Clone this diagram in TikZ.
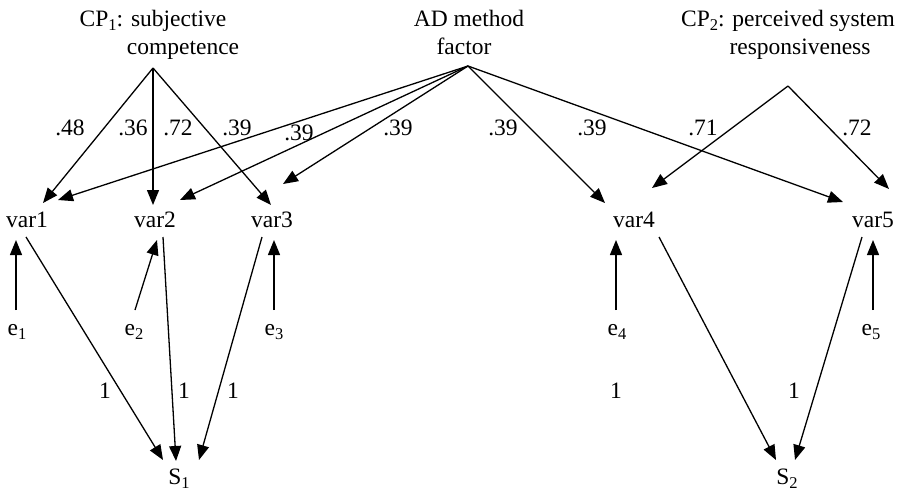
\documentclass[tikz,border=0pt]{standalone}
\usepackage{fontspec}
\setmainfont{Liberation Serif}
\usetikzlibrary{arrows.meta}
\newcommand\lsub[1]{\raisebox{-0.21em}{\fontsize{16.5}{16.5}\selectfont #1}}
\begin{document}
\begin{tikzpicture}[x=1pt,y=-1pt,
  lbl/.style={font=\fontsize{23.5}{28}\selectfont, inner sep=0pt, anchor=base},
  arr/.style={line width=1.3pt, -{Triangle[length=15pt,width=12pt]}}]
\useasboundingbox (0,0) rectangle (902,491);
% top labels
\node[lbl] (cp1a) at (153,26) {CP\lsub{1}: subjective};
\node[lbl] (cp1b) at (183,54) {competence};
\node[lbl] (ada) at (469,26) {AD method};
\node[lbl] (adb) at (464,54) {factor};
\node[lbl] (cp2a) at (788,26) {CP\lsub{2}: perceived system};
\node[lbl] (cp2b) at (800,54) {responsiveness};
% observed variables
\node[lbl] (var1) at (27,227) {var1};
\node[lbl] (var2) at (155,227) {var2};
\node[lbl] (var3) at (272,227) {var3};
\node[lbl] (var4) at (634,227) {var4};
\node[lbl] (var5) at (873,227) {var5};
% errors
\node[lbl] (e1) at (17,335) {e\lsub{1}};
\node[lbl] (e2) at (134,335) {e\lsub{2}};
\node[lbl] (e3) at (274,335) {e\lsub{3}};
\node[lbl] (e4) at (617,335) {e\lsub{4}};
\node[lbl] (e5) at (871,335) {e\lsub{5}};
% S nodes
\node[lbl] (s1) at (179,484) {S\lsub{1}};
\node[lbl] (s2) at (787,484) {S\lsub{2}};
% apex coordinates
\coordinate (cp1o) at (153,68);
\coordinate (ado) at (468,66);
\coordinate (cp2o) at (788,86);
% arrow end coordinates
\coordinate (v1a) at (43,203);
\coordinate (v1b) at (58,200);
\coordinate (v2a) at (153,205);
\coordinate (v2b) at (180,200);
\coordinate (v3a) at (271,205);
\coordinate (v3b) at (283,184);
\coordinate (v4a) at (605,203);
\coordinate (v4b) at (652,188);
\coordinate (v5a) at (843,202);
\coordinate (v5b) at (889,189);
\coordinate (v1s) at (26,237);
\coordinate (v2s) at (163,237);
\coordinate (v3s) at (262,237);
\coordinate (v4s) at (659,237);
\coordinate (v5s) at (862,237);
\coordinate (v1e) at (16,240);
\coordinate (v2e) at (157,240);
\coordinate (v3e) at (274,240);
\coordinate (v4e) at (616,240);
\coordinate (v5e) at (873,240);
\coordinate (e1t) at (16,310);
\coordinate (e2t) at (135,310);
\coordinate (e3t) at (274,310);
\coordinate (e4t) at (616,310);
\coordinate (e5t) at (873,310);
\coordinate (s1a) at (163,460);
\coordinate (s1b) at (176,461);
\coordinate (s1c) at (199,460);
\coordinate (s2a) at (776,460);
\coordinate (s2b) at (795,460);
% loadings
\draw[arr] (cp1o) -- (v1a);
\draw[arr] (cp1o) -- (v2a);
\draw[arr] (cp1o) -- (v3a);
\draw[arr] (ado) -- (v1b);
\draw[arr] (ado) -- (v2b);
\draw[arr] (ado) -- (v3b);
\draw[arr] (ado) -- (v4a);
\draw[arr] (ado) -- (v5a);
\draw[arr] (cp2o) -- (v4b);
\draw[arr] (cp2o) -- (v5b);
% errors
\draw[arr] (e1t) -- (v1e);
\draw[arr] (e2t) -- (v2e);
\draw[arr] (e3t) -- (v3e);
\draw[arr] (e4t) -- (v4e);
\draw[arr] (e5t) -- (v5e);
% to S
\draw[arr] (v1s) -- (s1a);
\draw[arr] (v2s) -- (s1b);
\draw[arr] (v3s) -- (s1c);
\draw[arr] (v4s) -- (s2a);
\draw[arr] (v5s) -- (s2b);
% coefficient labels
\node[lbl] (l1) at (70,135) {.48};
\node[lbl] (l2) at (133,135) {.36};
\node[lbl] (l3) at (178,135) {.72};
\node[lbl] (l4) at (237,135) {.39};
\node[lbl] (l5) at (299,140) {.39};
\node[lbl] (l6) at (398,135) {.39};
\node[lbl] (l7) at (503,135) {.39};
\node[lbl] (l8) at (592,135) {.39};
\node[lbl] (l9) at (703,135) {.71};
\node[lbl] (l10) at (857,135) {.72};
\node[lbl] (o1) at (105,398) {1};
\node[lbl] (o2) at (184,398) {1};
\node[lbl] (o3) at (233,398) {1};
\node[lbl] (o4) at (616,398) {1};
\node[lbl] (o5) at (794,398) {1};
\end{tikzpicture}
\end{document}
